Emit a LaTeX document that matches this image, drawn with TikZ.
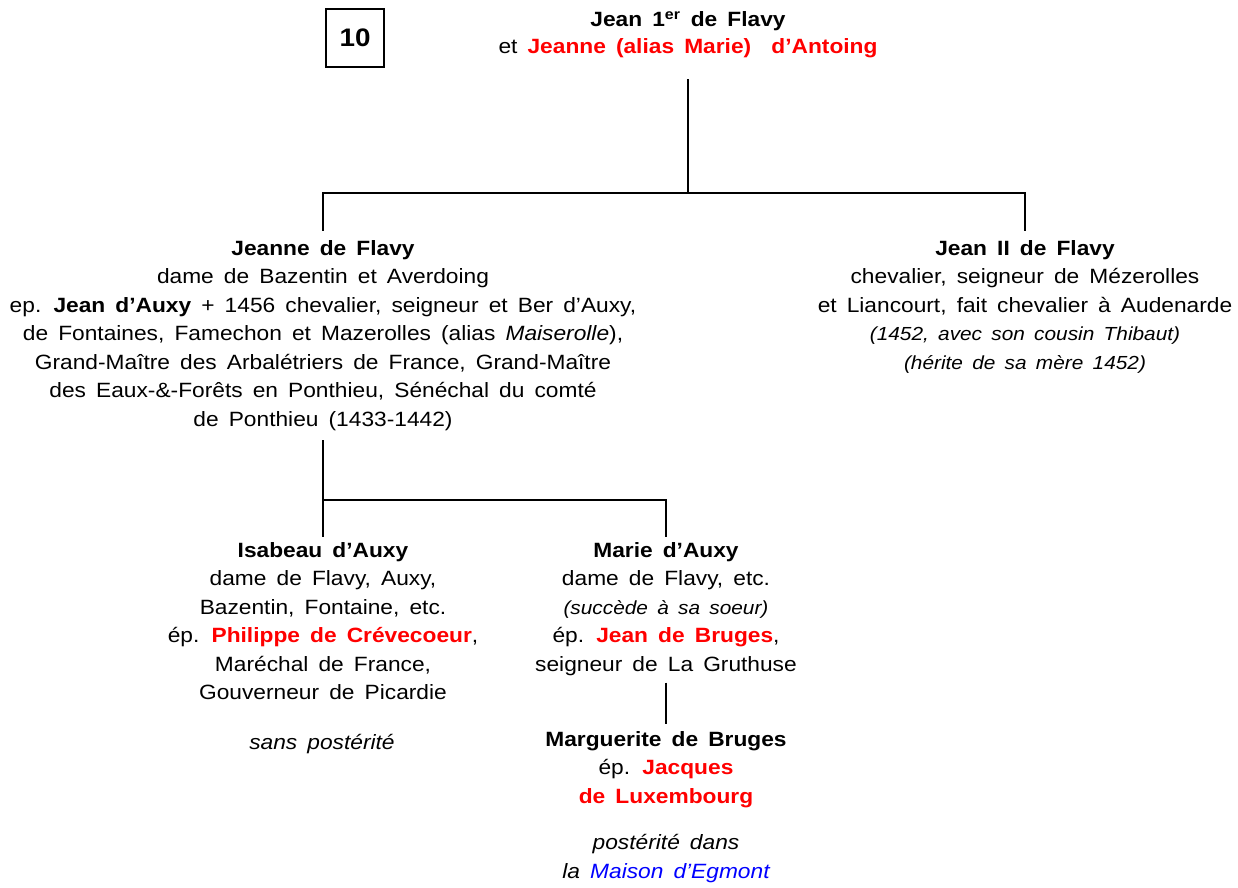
\documentclass[tikz,border=0pt]{standalone}
\usepackage{fontspec}
\setmainfont[FakeStretch=1.1, WordSpace=1.6]{Liberation Sans}
\usepackage{xcolor}
\usetikzlibrary{positioning}
\definecolor{cSpouse}{RGB}{255,0,0}
\definecolor{cHouse}{RGB}{0,0,255}
\newcommand{\fsmain}{\fontsize{15.5}{21.4}\selectfont}
\newcommand{\fsnote}{\fontsize{14.2}{21.4}\selectfont\itshape}
\newcommand{\spouse}[1]{\textcolor{cSpouse}{\textbf{#1}}}
\tikzset{
	person/.style  ={align=center, inner sep=0pt, anchor=north, font=\fsmain},
	numbox/.style  ={rectangle, draw=black, line width=1.6pt, minimum width=44pt, minimum height=44pt, font=\fontsize{19}{22}\selectfont\bfseries},
	line/.style    ={line width=1.5pt},
}

\begin{document}
\begin{tikzpicture}[x=0.75pt, y=-0.75pt]
	\useasboundingbox (0,0) rectangle (1238,888);
	\coordinate (bar1) at (0,193);
	\coordinate (bar2) at (0,500);
	% generation 1
	\node[numbox] (num) at (355,38) {10};
	\node[person, font=\fontsize{15.5}{20.3}\selectfont] (parents) at (688,11) {\textbf{Jean 1\textsuperscript{er} de Flavy}\\ et \spouse{Jeanne (alias Marie)\ \ d’Antoing}};
	% generation 2
	\node[person] (jeanne) at (323,240) {\textbf{Jeanne de Flavy}\\
		dame de Bazentin et Averdoing\\
		ep. \textbf{Jean d’Auxy} + 1456 chevalier, seigneur et Ber d’Auxy,\\
		de Fontaines, Famechon et Mazerolles (alias \textit{Maiserolle}),\\
		Grand-Maître des Arbalétriers de France, Grand-Maître\\
		des Eaux-\&-Forêts en Ponthieu, Sénéchal du comté\\
		de Ponthieu (1433-1442)};
	\node[person] (jeanII) at (1025,240) {\textbf{Jean II de Flavy}\\
		chevalier, seigneur de Mézerolles\\
		et Liancourt, fait chevalier à Audenarde\\
		{\fsnote (1452, avec son cousin Thibaut)}\\
		{\fsnote (hérite de sa mère 1452)}};
	% generation 3
	\node[person] (isabeau) at (323,542) {\textbf{Isabeau d’Auxy}\\
		dame de Flavy, Auxy,\\
		Bazentin, Fontaine, etc.\\
		ép. \spouse{Philippe de Crévecoeur},\\
		Maréchal de France,\\
		Gouverneur de Picardie};
	\node[person, font=\fsmain\itshape] (isaNote) at (322,734) {sans postérité};
	\node[person] (marie) at (666,542) {\textbf{Marie d’Auxy}\\
		dame de Flavy, etc.\\
		{\fsnote (succède à sa soeur)}\\
		ép. \spouse{Jean de Bruges},\\
		seigneur de La Gruthuse};
	% generation 4
	\node[person] (marguerite) at (666,731) {\textbf{Marguerite de Bruges}\\
		ép. \spouse{Jacques}\\
		\spouse{de Luxembourg}};
	\node[person, font=\fsmain\itshape] (margNote) at (666,834) {postérité dans\\ la \textcolor{cHouse}{Maison d’Egmont}};
	% lines
	\draw[line] ([yshift=-16pt]parents.south) -- (parents.south |- bar1);
	\draw[line] ([yshift=7pt]jeanne.north) -- (jeanne.north |- bar1) -- (jeanII.north |- bar1) -- ([yshift=7pt]jeanII.north);
	\draw[line] ([yshift=-7pt]jeanne.south) -- ([yshift=4pt]isabeau.north);
	\draw[line] (jeanne.south |- bar2) -| ([yshift=4pt]marie.north);
	\draw[line] ([yshift=-5pt]marie.south) -- ([yshift=5pt]marguerite.north);
\end{tikzpicture}
\end{document}
